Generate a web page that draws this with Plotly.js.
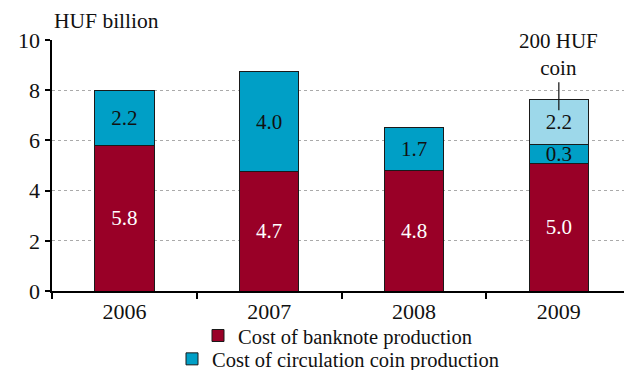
<!DOCTYPE html>
<html>
<head>
<meta charset="utf-8">
<script src="https://cdn.plot.ly/plotly-3.0.1.min.js"></script>
<style>html,body{margin:0;padding:0;background:#fff}#chart{width:624px;height:370px}</style>
</head>
<body>
<div id="chart"></div>
<script>
const years = ["2006", "2007", "2008", "2009"];
const banknote = [5.8, 4.75, 4.8, 5.08];
const banknoteLabels = ["5.8", "4.7", "4.8", "5.0"];
const coin = [2.2, 4.0, 1.7, 0.75];
const coinLabels = ["2.2", "4.0", "1.7", "0.3"];
const coin200 = [null, null, null, 1.78];
const coin200Labels = ["", "", "", "2.2"];
const yTicks = [0, 2, 4, 6, 8, 10];

const FONT = "'Liberation Serif', 'Times New Roman', serif";
const line = {color: "#1a1a1a", width: 1};
const BARTXT = 21;

const traces = [
  {type: "bar", x: years, y: banknote, name: "Cost of banknote production",
   legend: "legend",
   marker: {color: "#990027", line: line}, width: 0.41,
   text: banknoteLabels, textposition: "inside", insidetextanchor: "middle",
   textfont: {family: FONT, size: BARTXT, color: "#ffffff"}, hoverinfo: "skip"},
  {type: "bar", x: years, y: coin, name: "Cost of circulation coin production",
   legend: "legend2",
   marker: {color: "#009fc6", line: line}, width: 0.41,
   text: coinLabels, textposition: "inside", insidetextanchor: "middle",
   textfont: {family: FONT, size: BARTXT, color: "#111111"}, hoverinfo: "skip"},
  {type: "bar", x: years, y: coin200, name: "200 HUF coin", showlegend: false,
   marker: {color: "#9dd8ea", line: line}, width: 0.41,
   text: coin200Labels, textposition: "inside", insidetextanchor: "middle",
   textfont: {family: FONT, size: BARTXT, color: "#111111"}, hoverinfo: "skip"}
];

const legendBase = {orientation: "h", xanchor: "center", yanchor: "middle",
  font: {family: FONT, size: 20.5, color: "#111111"}, itemwidth: 30,
  bgcolor: "rgba(0,0,0,0)", borderwidth: 0};

const coinIdx = years.indexOf("2009");

const layout = {
  width: 624, height: 370,
  margin: {l: 52, r: 0, t: 40, b: 79, autoexpand: false},
  barmode: "stack",
  uniformtext: {mode: "show", minsize: BARTXT},
  paper_bgcolor: "#ffffff", plot_bgcolor: "#ffffff",
  font: {family: FONT, size: 20, color: "#111111"},
  showlegend: true,
  legend: Object.assign({}, legendBase, {x: 0.5, y: -0.178}),
  legend2: Object.assign({}, legendBase, {x: 0.5, y: -0.271}),
  xaxis: {type: "category", range: [-0.5, 3.45], showline: true, linecolor: "#000", linewidth: 2,
          ticks: "outside", tickson: "boundaries", ticklen: 6, tickwidth: 2, tickcolor: "#000",
          showgrid: false, zeroline: false, tickfont: {family: FONT, size: 22}},
  yaxis: {range: [0, 10], tickvals: yTicks, ticktext: yTicks.map(String),
          showline: true, linecolor: "#000", linewidth: 2.5,
          ticks: "outside", ticklen: 5, tickwidth: 2, tickcolor: "#000",
          showgrid: true, gridcolor: "#aaaaaa", griddash: "dot", gridwidth: 1,
          zeroline: false, tickfont: {family: FONT, size: 22}},
  annotations: [
    {xref: "paper", yref: "paper", x: 0.0, y: 1.075, xanchor: "left", yanchor: "middle",
     text: "HUF billion", showarrow: false, font: {family: FONT, size: 21.5}},
    {xref: "x", yref: "y", x: coinIdx, y: 7.2, ax: 0, ay: -28, axref: "pixel", ayref: "pixel",
     text: "200 HUF<br>coin", showarrow: true, arrowhead: 0, arrowwidth: 1.2, arrowcolor: "#111",
     standoff: 0, startstandoff: 0, yanchor: "bottom",
     font: {family: FONT, size: 21}}
  ]
};

Plotly.newPlot("chart", traces, layout, {staticPlot: true, displayModeBar: false});
</script>
</body>
</html>
